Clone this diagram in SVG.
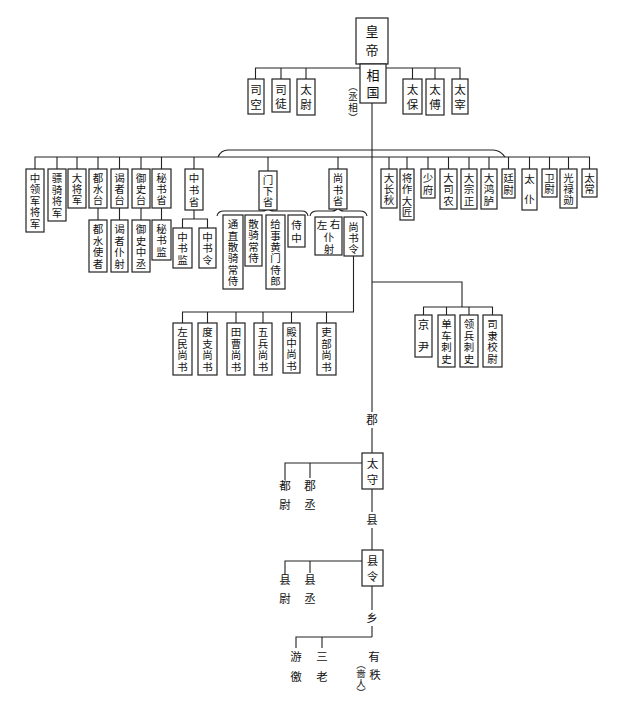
<svg xmlns="http://www.w3.org/2000/svg" width="640" height="710" viewBox="0 0 640 710">
<style>
rect{fill:#fff;stroke:#222;stroke-width:1.2}
text{font-family:"Noto Sans CJK SC","Noto Sans CJK TC",serif;font-size:10.5px;text-anchor:middle;fill:#111}
.c path,.c line{fill:none;stroke:#222;stroke-width:1.1}
.p{font-size:9.5px}
.f{font-size:11.5px}
</style>
<rect x="0" y="0" width="640" height="710" style="fill:#fff;stroke:none"/>
<g class="c" id="connectors">
<path d="M255.5,79V68H460V79M281,68V79M306,68V79M412.5,68V79M435,68V79"/>
<path d="M372,103V412M372,428V453M372,489V512M372,528V550M372,586V610M372,626V637"/>
<path d="M35,169V157H589.5V169M57,157V169M77,157V169M98,157V169M119.5,157V169M141,157V169M161.5,157V169M194,157V169M268,157V171M338,157V169"/>
<path d="M218,157Q221,150 228,150H493Q500,150 505,157"/>
<path d="M389,157V169M407,157V169M428,157V169M448.5,157V169M469,157V169M489,157V169M508.5,157V169M529.5,157V169M549.5,157V169M568.5,157V169"/>
<path d="M98,208V220M119.5,208V220M141,208V220M161.5,208V220"/>
<path d="M194,210V219M182.5,228V219H207.5V228"/>
<path d="M217,216Q218,211 224,211H262Q267,211 268,207Q269,211 274,211H302Q307,211 308,216"/>
<path d="M310,216Q311,211 317,211H332Q337,211 338,207Q339,211 344,211H360Q366,211 367,216"/>
<path d="M353.5,256V312H182.5V323M207.5,312V323M236,312V323M263,312V323M291.5,312V323M326.5,312V323"/>
<path d="M372,282H462V307M423.5,315V307H492.5V315M446.5,307V315M469,307V315"/>
<path d="M362,463H285V480M310,463V478"/>
<path d="M362,561H285V575M310,561V573"/>
<path d="M372,637H296V648M322,637V648"/>
</g>
<g id="huangdi"><rect x="356" y="18" width="32" height="46"/><text x="372" y="36" style="font-size:13px">皇<tspan x="372" dy="19">帝</tspan></text></g>
<g id="xiangguo"><rect x="360" y="64" width="26" height="39"/><text x="373" y="80" style="font-size:13px">相<tspan x="373" dy="16.5">国</tspan></text></g>
<g id="chengxiang"><text class="p" x="353" y="90">︵<tspan x="353" dy="10">丞</tspan><tspan x="353" dy="11">相</tspan><tspan x="353" dy="10">︶</tspan></text></g>
<g id="sikong"><rect x="248" y="79" width="16" height="35"/><text class="f" x="256" y="94">司<tspan x="256" dy="14.5">空</tspan></text></g>
<g id="situ"><rect x="272" y="79" width="18" height="33"/><text class="f" x="281" y="94">司<tspan x="281" dy="14">徒</tspan></text></g>
<g id="taiwei"><rect x="297" y="79" width="18" height="36"/><text class="f" x="306" y="94">太<tspan x="306" dy="15">尉</tspan></text></g>
<g id="taibao"><rect x="403" y="79" width="19" height="35"/><text class="f" x="412.5" y="94">太<tspan x="412.5" dy="14.5">保</tspan></text></g>
<g id="taifu"><rect x="426" y="79" width="18" height="36"/><text class="f" x="435" y="94">太<tspan x="435" dy="15">傅</tspan></text></g>
<g id="taizai"><rect x="452" y="79" width="16" height="35"/><text class="f" x="460" y="94">太<tspan x="460" dy="14.5">宰</tspan></text></g>

<g id="zhonglingjun"><rect x="26" y="169" width="18" height="63"/><text x="35" y="182">中<tspan x="35" dy="11.4">领</tspan><tspan x="35" dy="11.4">军</tspan><tspan x="35" dy="11.4">将</tspan><tspan x="35" dy="11.4">军</tspan></text></g>
<g id="piaoqi"><rect x="48" y="169" width="18" height="52"/><text x="57" y="182">骠<tspan x="57" dy="11.5">骑</tspan><tspan x="57" dy="11.5">将</tspan><tspan x="57" dy="11.5">军</tspan></text></g>
<g id="dajiangjun"><rect x="68" y="169" width="18" height="39"/><text x="77" y="181.5">大<tspan x="77" dy="11">将</tspan><tspan x="77" dy="11">军</tspan></text></g>
<g id="dushuitai"><rect x="89" y="169" width="18" height="39"/><text x="98" y="181.5">都<tspan x="98" dy="11">水</tspan><tspan x="98" dy="11">台</tspan></text></g>
<g id="yezhetai"><rect x="111" y="169" width="17" height="39"/><text x="119.5" y="181.5">谒<tspan x="119.5" dy="11">者</tspan><tspan x="119.5" dy="11">台</tspan></text></g>
<g id="yushitai"><rect x="132" y="169" width="18" height="39"/><text x="141" y="181.5">御<tspan x="141" dy="11">史</tspan><tspan x="141" dy="11">台</tspan></text></g>
<g id="mishusheng"><rect x="152" y="169" width="19" height="39"/><text x="161.5" y="181.5">秘<tspan x="161.5" dy="11">书</tspan><tspan x="161.5" dy="11">省</tspan></text></g>
<g id="dushuishizhe"><rect x="89" y="220" width="18" height="52"/><text x="98" y="233">都<tspan x="98" dy="11.5">水</tspan><tspan x="98" dy="11.5">使</tspan><tspan x="98" dy="11.5">者</tspan></text></g>
<g id="yezhepuye"><rect x="111" y="220" width="17" height="52"/><text x="119.5" y="233">谒<tspan x="119.5" dy="11.5">者</tspan><tspan x="119.5" dy="11.5">仆</tspan><tspan x="119.5" dy="11.5">射</tspan></text></g>
<g id="yushizhongcheng"><rect x="132" y="220" width="18" height="52"/><text x="141" y="233">御<tspan x="141" dy="11.5">史</tspan><tspan x="141" dy="11.5">中</tspan><tspan x="141" dy="11.5">丞</tspan></text></g>
<g id="mishujian"><rect x="152" y="220" width="19" height="40"/><text x="161.5" y="233">秘<tspan x="161.5" dy="11.3">书</tspan><tspan x="161.5" dy="11.3">监</tspan></text></g>
<g id="zhongshusheng"><rect x="185" y="169" width="18" height="41"/><text x="194" y="182.3">中<tspan x="194" dy="11.7">书</tspan><tspan x="194" dy="11.7">省</tspan></text></g>
<g id="zhongshujian"><rect x="173" y="228" width="19" height="40"/><text x="182.5" y="241">中<tspan x="182.5" dy="11.3">书</tspan><tspan x="182.5" dy="11.3">监</tspan></text></g>
<g id="zhongshuling"><rect x="199" y="228" width="17" height="40"/><text x="207.5" y="241">中<tspan x="207.5" dy="11.3">书</tspan><tspan x="207.5" dy="11.3">令</tspan></text></g>
<g id="menxiasheng"><rect x="259" y="171" width="18" height="39"/><text x="268" y="183.5">门<tspan x="268" dy="11">下</tspan><tspan x="268" dy="11">省</tspan></text></g>
<g id="tongzhi"><rect x="223" y="215" width="20" height="74"/><text x="233" y="228.2">通<tspan x="233" dy="11.33">直</tspan><tspan x="233" dy="11.33">散</tspan><tspan x="233" dy="11.33">骑</tspan><tspan x="233" dy="11.33">常</tspan><tspan x="233" dy="11.33">侍</tspan></text></g>
<g id="sanqi"><rect x="245" y="215" width="17" height="51"/><text x="253.5" y="228.1">散<tspan x="253.5" dy="11.25">骑</tspan><tspan x="253.5" dy="11.25">常</tspan><tspan x="253.5" dy="11.25">侍</tspan></text></g>
<g id="jishi"><rect x="266" y="215" width="19" height="74"/><text x="275.5" y="228.2">给<tspan x="275.5" dy="11.33">事</tspan><tspan x="275.5" dy="11.33">黄</tspan><tspan x="275.5" dy="11.33">门</tspan><tspan x="275.5" dy="11.33">侍</tspan><tspan x="275.5" dy="11.33">郎</tspan></text></g>
<g id="shizhong"><rect x="288" y="215" width="17" height="32"/><text x="296.5" y="229">侍<tspan x="296.5" dy="13">中</tspan></text></g>
<g id="shangshusheng"><rect x="329" y="169" width="18" height="40"/><text x="338" y="182.2">尚<tspan x="338" dy="11.3">书</tspan><tspan x="338" dy="11.3">省</tspan></text></g>
<g id="zuoyoupuye"><rect x="315" y="217" width="27" height="38"/><text x="322" y="229">左</text><text x="335" y="228">右</text><text x="329" y="241">仆</text><text x="329" y="253">射</text></g>
<g id="shangshuling"><rect x="344" y="217" width="19" height="39"/><text x="353.5" y="230.5">尚<tspan x="353.5" dy="11">书</tspan><tspan x="353.5" dy="11">令</tspan></text></g>

<g id="zuomin"><rect x="173" y="323" width="19" height="52"/><text x="182.5" y="336.2">左<tspan x="182.5" dy="11.5">民</tspan><tspan x="182.5" dy="11.5">尚</tspan><tspan x="182.5" dy="11.5">书</tspan></text></g>
<g id="duzhi"><rect x="198" y="323" width="19" height="52"/><text x="207.5" y="336.2">度<tspan x="207.5" dy="11.5">支</tspan><tspan x="207.5" dy="11.5">尚</tspan><tspan x="207.5" dy="11.5">书</tspan></text></g>
<g id="tiancao"><rect x="227" y="323" width="18" height="52"/><text x="236" y="336.2">田<tspan x="236" dy="11.5">曹</tspan><tspan x="236" dy="11.5">尚</tspan><tspan x="236" dy="11.5">书</tspan></text></g>
<g id="wubing"><rect x="254" y="323" width="18" height="52"/><text x="263" y="336.2">五<tspan x="263" dy="11.5">兵</tspan><tspan x="263" dy="11.5">尚</tspan><tspan x="263" dy="11.5">书</tspan></text></g>
<g id="dianzhong"><rect x="283" y="323" width="17" height="50"/><text x="291.5" y="336">殿<tspan x="291.5" dy="11.2">中</tspan><tspan x="291.5" dy="11.2">尚</tspan><tspan x="291.5" dy="11.2">书</tspan></text></g>
<g id="libu"><rect x="317" y="323" width="19" height="52"/><text x="326.5" y="336.2">吏<tspan x="326.5" dy="11.5">部</tspan><tspan x="326.5" dy="11.5">尚</tspan><tspan x="326.5" dy="11.5">书</tspan></text></g>

<g id="jingyin"><rect x="415" y="315" width="17" height="42"/><text class="f" x="423.5" y="329">京<tspan x="423.5" dy="22">尹</tspan></text></g>
<g id="danche"><rect x="438" y="315" width="17" height="52"/><text x="446.5" y="328.2">单<tspan x="446.5" dy="11.5">车</tspan><tspan x="446.5" dy="11.5">刺</tspan><tspan x="446.5" dy="11.5">史</tspan></text></g>
<g id="lingbing"><rect x="460" y="315" width="18" height="52"/><text x="469" y="328.2">领<tspan x="469" dy="11.5">兵</tspan><tspan x="469" dy="11.5">刺</tspan><tspan x="469" dy="11.5">史</tspan></text></g>
<g id="sili"><rect x="483" y="315" width="19" height="52"/><text x="492.5" y="328.2">司<tspan x="492.5" dy="11.5">隶</tspan><tspan x="492.5" dy="11.5">校</tspan><tspan x="492.5" dy="11.5">尉</tspan></text></g>

<g id="dachangqiu"><rect x="381" y="169" width="16" height="39"/><text x="389" y="181.5">大<tspan x="389" dy="11">长</tspan><tspan x="389" dy="11">秋</tspan></text></g>
<g id="jiangzuo"><rect x="400" y="169" width="14" height="51"/><text x="407" y="182.1">将<tspan x="407" dy="11.25">作</tspan><tspan x="407" dy="11.25">大</tspan><tspan x="407" dy="11.25">匠</tspan></text></g>
<g id="shaofu"><rect x="421" y="169" width="14" height="29"/><text x="428" y="182.2">少<tspan x="428" dy="11.5">府</tspan></text></g>
<g id="dasinong"><rect x="440" y="169" width="17" height="40"/><text x="448.5" y="182">大<tspan x="448.5" dy="11.3">司</tspan><tspan x="448.5" dy="11.3">农</tspan></text></g>
<g id="dazongzheng"><rect x="461" y="169" width="16" height="40"/><text x="469" y="182">大<tspan x="469" dy="11.3">宗</tspan><tspan x="469" dy="11.3">正</tspan></text></g>
<g id="dahonglu"><rect x="481" y="169" width="16" height="40"/><text x="489" y="182">大<tspan x="489" dy="11.3">鸿</tspan><tspan x="489" dy="11.3">胪</tspan></text></g>
<g id="tingwei"><rect x="502" y="169" width="13" height="29"/><text x="508.5" y="182.2">廷<tspan x="508.5" dy="11.5">尉</tspan></text></g>
<g id="taipu"><rect x="522" y="169" width="15" height="41"/><text x="529.5" y="183">太<tspan x="529.5" dy="20">仆</tspan></text></g>
<g id="weiwei"><rect x="542" y="169" width="15" height="28"/><text x="549.5" y="182">卫<tspan x="549.5" dy="11">尉</tspan></text></g>
<g id="guanglu"><rect x="560" y="169" width="17" height="39"/><text x="568.5" y="181.5">光<tspan x="568.5" dy="11">禄</tspan><tspan x="568.5" dy="11">勋</tspan></text></g>
<g id="taichang"><rect x="582" y="169" width="15" height="28"/><text x="589.5" y="182">太<tspan x="589.5" dy="11">常</tspan></text></g>

<g id="jun"><text class="f" x="372" y="424">郡</text></g>
<g id="taishou"><rect x="362" y="453" width="21" height="36"/><text class="f" x="372.5" y="468">太<tspan x="372.5" dy="16">守</tspan></text></g>
<g id="duwei"><text class="f" x="285" y="490">都<tspan x="285" dy="19">尉</tspan></text></g>
<g id="juncheng"><text class="f" x="310" y="490">郡<tspan x="310" dy="19">丞</tspan></text></g>
<g id="xian"><text class="f" x="372" y="524">县</text></g>
<g id="xianling"><rect x="362" y="550" width="21" height="36"/><text class="f" x="372.5" y="565">县<tspan x="372.5" dy="16">令</tspan></text></g>
<g id="xianwei"><text class="f" x="285" y="584">县<tspan x="285" dy="19">尉</tspan></text></g>
<g id="xiancheng"><text class="f" x="310" y="584">县<tspan x="310" dy="19">丞</tspan></text></g>
<g id="xiang"><text class="f" x="372" y="622">乡</text></g>
<g id="youjiao"><text class="f" x="296" y="661">游<tspan x="296" dy="20">徼</tspan></text></g>
<g id="sanlao"><text class="f" x="322" y="661">三<tspan x="322" dy="20">老</tspan></text></g>
<g id="youzhi"><text class="f" x="374" y="661">有<tspan x="375" dy="18">秩</tspan></text><text class="p" x="361" y="668">︵<tspan x="361" dy="9">啬</tspan><tspan x="361" dy="10">人</tspan><tspan x="361" dy="9">︶</tspan></text></g>
</svg>
